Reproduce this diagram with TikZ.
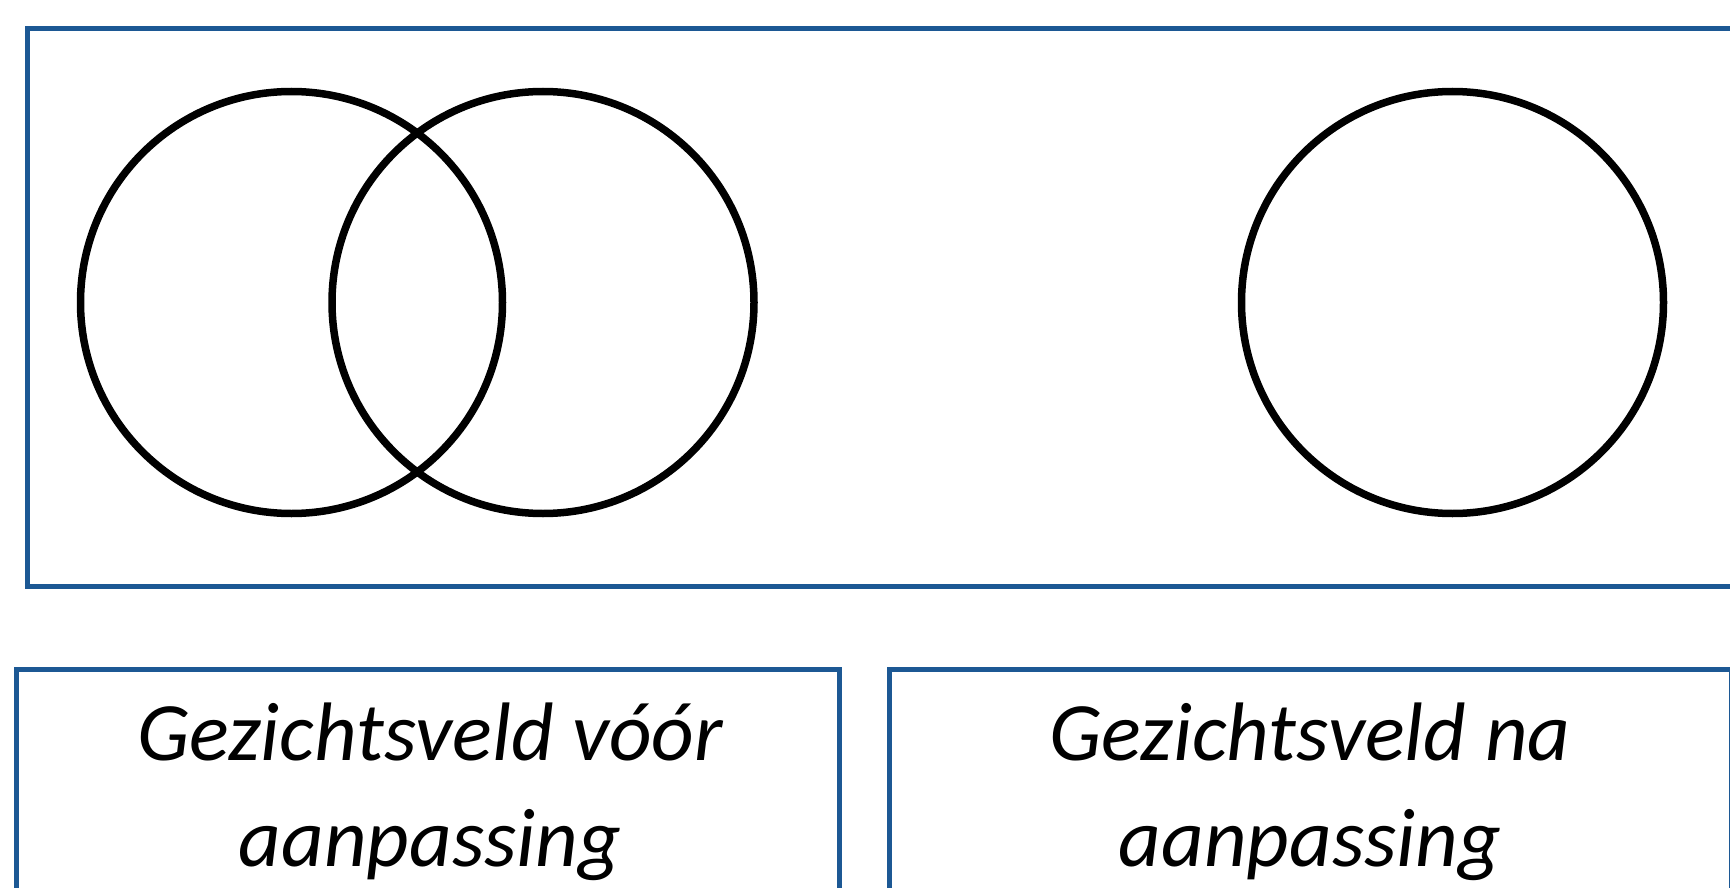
\documentclass[tikz,border=0pt]{standalone}
\usepackage{fontspec}
\setmainfont{Carlito}
\definecolor{boxblue}{RGB}{28,88,148}
\tikzset{
  frame/.style={draw=boxblue, line width=5pt},
  ring/.style={draw=black, line width=7.5pt},
  caption/.style={anchor=base, inner sep=0pt, font=\fontsize{83}{100}\selectfont\itshape}
}
\begin{document}
\begin{tikzpicture}[x=1pt,y=-1pt]
\useasboundingbox (0,0) rectangle (1730,888);
\clip (0,0) rectangle (1730,888);
\fill[white] (0,0) rectangle (1730,888);
% top frame
\draw[frame] (27,29) rectangle (1733,586);
% circles
\draw[ring] (291.5,302.5) circle (211);
\draw[ring] (543,302.5) circle (211);
\draw[ring] (1452.5,302.5) circle (211);
% bottom frames
\draw[frame] (16,669) rectangle (839,900);
\draw[frame] (889,669) rectangle (1731,900);
% captions
\node[caption] (lt1) at (430,760) {Gezichtsveld vóór};
\node[caption] (lt2) at (430,866) {aanpassing};
\node[caption] (rt1) at (1310,760) {Gezichtsveld na};
\node[caption] (rt2) at (1310,866) {aanpassing};
\end{tikzpicture}
\end{document}
